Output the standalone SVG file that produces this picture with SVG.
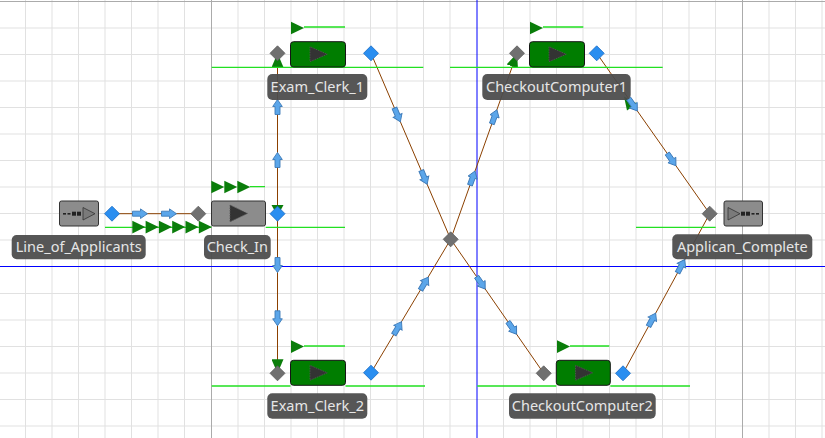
<svg xmlns="http://www.w3.org/2000/svg" xmlns:xlink="http://www.w3.org/1999/xlink" width="825" height="438" viewBox="0 0 825 438">
<style>
.grid{stroke:#e1e1e1;stroke-width:1;fill:none}
.gridd{stroke:#ababab;stroke-width:1;fill:none}
.axis{stroke:#0000ff;stroke-width:1;fill:none}
.ql{stroke:#22e022;stroke-width:1.3;fill:none}
.gt{fill:#0a7d0a}
.gd{fill:#707070;stroke:#5e5e5e;stroke-width:0.8}
.bd{fill:#2a8ef0;stroke:#1a6cc4;stroke-width:0.8}
.gbox{fill:#8c8c8c;stroke:#333;stroke-width:1}
.wbox{fill:#007d00;stroke:#151515;stroke-width:1}
.play{fill:#333;stroke:#555;stroke-width:0.8;stroke-dasharray:1.5 1}
.lbr{fill:#4b4b4b;fill-opacity:0.94}
.lbt{fill:#e6e6e6;font-family:"Noto Sans","Open Sans",sans-serif;font-size:14.5px;text-anchor:middle}
.con{stroke:#8b4000;stroke-width:1;fill:none}
.ba{fill:#5ba6ea;stroke:#3d7ab8;stroke-width:0.9}
</style>
<defs>
<path id="dm" d="M0,-7.5 L7.5,0 L0,7.5 L-7.5,0 Z"/>
<path id="arr" d="M-7.5,-2.5 L0.5,-2.5 L0.5,-4.8 L7.5,0 L0.5,4.8 L0.5,2.5 L-7.5,2.5 Z"/>
<path id="flag" d="M0,0 L13,6.3 L0,12.6 Z"/>
<marker id="gh" viewBox="0 0 14 12" refX="14" refY="6" markerWidth="14" markerHeight="12" markerUnits="userSpaceOnUse" orient="auto">
<path d="M0,0 L14,6 L0,12 Z" fill="#0a7d0a"/>
</marker>
</defs>
<rect width="825" height="438" fill="#ffffff"/>
<g id="grid">
<path class="grid" d="M25.5,0V438M52,0V438M78.5,0V438M105,0V438M131.5,0V438M158,0V438M184.5,0V438M238,0V438M264.5,0V438M291,0V438M317.5,0V438M344,0V438M370.5,0V438M397,0V438M423.5,0V438M450,0V438M503.5,0V438M530,0V438M556.5,0V438M583,0V438M609.5,0V438M636,0V438M662.5,0V438M689,0V438M715.5,0V438M769,0V438M795.5,0V438M822,0V438"/>
<path class="grid" d="M0,28H825M0,54.5H825M0,81H825M0,107.5H825M0,134H825M0,160.5H825M0,187H825M0,213.5H825M0,240H825M0,293.5H825M0,320H825M0,346.5H825M0,373H825M0,399.5H825M0,426H825"/>
<path class="gridd" d="M211.5,0V438M742.5,0V438M0,1.5H825"/>
<path class="axis" d="M477,0V438M0,266.5H825"/>
</g>
<g id="connectors">
<path class="con" d="M112,213.7 H198.3"/>
<path class="con" d="M277.5,213.7 V53.3" marker-end="url(#gh)"/>
<path class="con" d="M277.5,213.7 V373.3" marker-end="url(#gh)"/>
<path class="con" d="M371,53.3 L450.7,239.3"/>
<path class="con" d="M450.7,239.3 L517,53.3" marker-end="url(#gh)"/>
<path class="con" d="M371,372.7 L450.7,239.3"/>
<path class="con" d="M450.7,239.3 L543.7,373.3"/>
<path class="con" d="M596.7,53.3 L709.7,213.7"/>
<path class="con" d="M623,373.3 L709.7,213.7"/>
<polygon class="gt" points="271.5,205 283.5,205 277.5,216"/>
<polygon class="gt" points="624,96.5 637,103.5 627,110.5"/>
<use xlink:href="#arr" class="ba" transform="translate(140,213.7)"/>
<use xlink:href="#arr" class="ba" transform="translate(169,213.7)"/>
<use xlink:href="#arr" class="ba" transform="translate(277.5,160) rotate(-90)"/>
<use xlink:href="#arr" class="ba" transform="translate(277.5,107) rotate(-90)"/>
<use xlink:href="#arr" class="ba" transform="translate(277.5,265) rotate(90)"/>
<use xlink:href="#arr" class="ba" transform="translate(277.5,318.3) rotate(90)"/>
<use xlink:href="#arr" class="ba" transform="translate(397.4,114.9) rotate(66.8)"/>
<use xlink:href="#arr" class="ba" transform="translate(424.2,177.4) rotate(66.8)"/>
<use xlink:href="#arr" class="ba" transform="translate(472.5,178.1) rotate(-70.4)"/>
<use xlink:href="#arr" class="ba" transform="translate(494.4,116.8) rotate(-70.4)"/>
<use xlink:href="#arr" class="ba" transform="translate(397.7,328.1) rotate(-59.1)"/>
<use xlink:href="#arr" class="ba" transform="translate(424.4,283.5) rotate(-59.1)"/>
<use xlink:href="#arr" class="ba" transform="translate(480.9,282.9) rotate(55.2)"/>
<use xlink:href="#arr" class="ba" transform="translate(512.3,328.1) rotate(55.2)"/>
<use xlink:href="#arr" class="ba" transform="translate(633,104.8) rotate(54.8)"/>
<use xlink:href="#arr" class="ba" transform="translate(671.6,159.6) rotate(54.8)"/>
<use xlink:href="#arr" class="ba" transform="translate(652.1,319.7) rotate(-61.5)"/>
<use xlink:href="#arr" class="ba" transform="translate(681.2,266.1) rotate(-61.5)"/>
</g>
<g id="Line_of_Applicants">
<rect class="gbox" x="59.5" y="201" width="39" height="25" rx="2"/>
<rect x="63" y="213" width="3" height="1.6" fill="#222"/>
<rect x="67.5" y="213" width="3" height="1.6" fill="#222"/>
<rect x="72" y="211.7" width="4" height="4" fill="#222"/>
<rect x="77" y="211.7" width="4" height="4" fill="#222"/>
<polygon points="83,207.5 83,220 95,213.7" fill="#7a7a7a" stroke="#333" stroke-width="0.8"/>
<use xlink:href="#dm" class="bd" x="112" y="213.7"/>
<rect class="lbr" x="11.7" y="235" width="134" height="24.3" rx="5"/>
<text class="lbt" x="78.7" y="252">Line_of_Applicants</text>
</g>
<g id="Check_In">
<path class="ql" d="M105,227.3H211.3M265.7,227.3H345M250,186.7H265"/>
<use xlink:href="#flag" class="gt" x="211.3" y="180.7"/>
<use xlink:href="#flag" class="gt" x="224.3" y="180.7"/>
<use xlink:href="#flag" class="gt" x="237.3" y="180.7"/>
<use xlink:href="#flag" class="gt" x="132.3" y="220.8"/>
<use xlink:href="#flag" class="gt" x="145.6" y="220.8"/>
<use xlink:href="#flag" class="gt" x="158.9" y="220.8"/>
<use xlink:href="#flag" class="gt" x="172.2" y="220.8"/>
<use xlink:href="#flag" class="gt" x="185.5" y="220.8"/>
<use xlink:href="#flag" class="gt" x="198.8" y="220.8"/>
<use xlink:href="#dm" class="gd" x="198.3" y="213.7"/>
<rect class="gbox" x="211.5" y="201" width="54" height="25" rx="2"/>
<polygon class="play" points="230,205 230,221.8 247.5,213.4"/>
<use xlink:href="#dm" class="bd" x="277.5" y="213.7"/>
<rect class="lbr" x="204" y="235" width="66.7" height="24.3" rx="5"/>
<text class="lbt" x="237.3" y="252">Check_In</text>
</g>
<g id="Exam_Clerk_1">
<path class="ql" d="M211.7,67.3H423.3M304,27H345"/>
<use xlink:href="#flag" class="gt" x="291" y="21.7"/>
<rect class="wbox" x="290.5" y="41.7" width="55" height="25.3" rx="3"/>
<polygon class="play" points="310,46.7 310,61.7 327.3,54.2"/>
<use xlink:href="#dm" class="gd" x="277.5" y="53.3"/>
<use xlink:href="#dm" class="bd" x="371" y="53.3"/>
<rect class="lbr" x="267.3" y="74" width="100" height="26" rx="5"/>
<text class="lbt" x="317.3" y="92">Exam_Clerk_1</text>
</g>
<g id="CheckoutComputer1">
<path class="ql" d="M450,67.3H662.7M543,27H583.3"/>
<use xlink:href="#flag" class="gt" x="530" y="21.7"/>
<rect class="wbox" x="529.5" y="41.7" width="55" height="25.3" rx="3"/>
<polygon class="play" points="549,46.7 549,61.7 566.3,54.2"/>
<use xlink:href="#dm" class="gd" x="517" y="53.3"/>
<use xlink:href="#dm" class="bd" x="596.7" y="53.3"/>
<rect class="lbr" x="482.3" y="74" width="148.4" height="26" rx="5"/>
<text class="lbt" x="556.5" y="92">CheckoutComputer1</text>
</g>
<g id="Junction">
<use xlink:href="#dm" class="gd" x="450.7" y="239.3"/>
</g>
<g id="Applican_Complete">
<path class="ql" d="M636,227.3H715.7"/>
<use xlink:href="#dm" class="gd" x="709.7" y="213.7"/>
<rect class="gbox" x="724" y="201" width="38.5" height="25" rx="2"/>
<polygon points="728,207.5 728,220 740,213.7" fill="#7a7a7a" stroke="#333" stroke-width="0.8"/>
<rect x="741" y="211.7" width="4" height="4" fill="#222"/>
<rect x="746" y="211.7" width="4" height="4" fill="#222"/>
<rect x="751.5" y="213" width="3" height="1.6" fill="#222"/>
<rect x="756" y="213" width="3" height="1.6" fill="#222"/>
<rect class="lbr" x="672.3" y="234.3" width="140" height="25" rx="5"/>
<text class="lbt" x="742.3" y="252">Applican_Complete</text>
</g>
<g id="Exam_Clerk_2">
<path class="ql" d="M211.7,386H290.5M345.5,386H425M304,346H345"/>
<use xlink:href="#flag" class="gt" x="291" y="340.3"/>
<rect class="wbox" x="290.5" y="360.3" width="55" height="25" rx="3"/>
<polygon class="play" points="310,365.3 310,380.3 327.3,372.8"/>
<use xlink:href="#dm" class="gd" x="277.5" y="373.3"/>
<use xlink:href="#dm" class="bd" x="371" y="372.7"/>
<rect class="lbr" x="267.3" y="393.3" width="100" height="25.4" rx="5"/>
<text class="lbt" x="317.3" y="411">Exam_Clerk_2</text>
</g>
<g id="CheckoutComputer2">
<path class="ql" d="M477.3,386H556.3M610.3,386H690M570,346H609.3"/>
<use xlink:href="#flag" class="gt" x="557" y="340.3"/>
<rect class="wbox" x="556.3" y="360.3" width="54" height="25" rx="3"/>
<polygon class="play" points="575.5,365.3 575.5,380.3 592.8,372.8"/>
<use xlink:href="#dm" class="gd" x="543.7" y="373.3"/>
<use xlink:href="#dm" class="bd" x="623" y="373.3"/>
<rect class="lbr" x="509" y="393.3" width="146.7" height="25.4" rx="5"/>
<text class="lbt" x="582.3" y="411">CheckoutComputer2</text>
</g>
</svg>
